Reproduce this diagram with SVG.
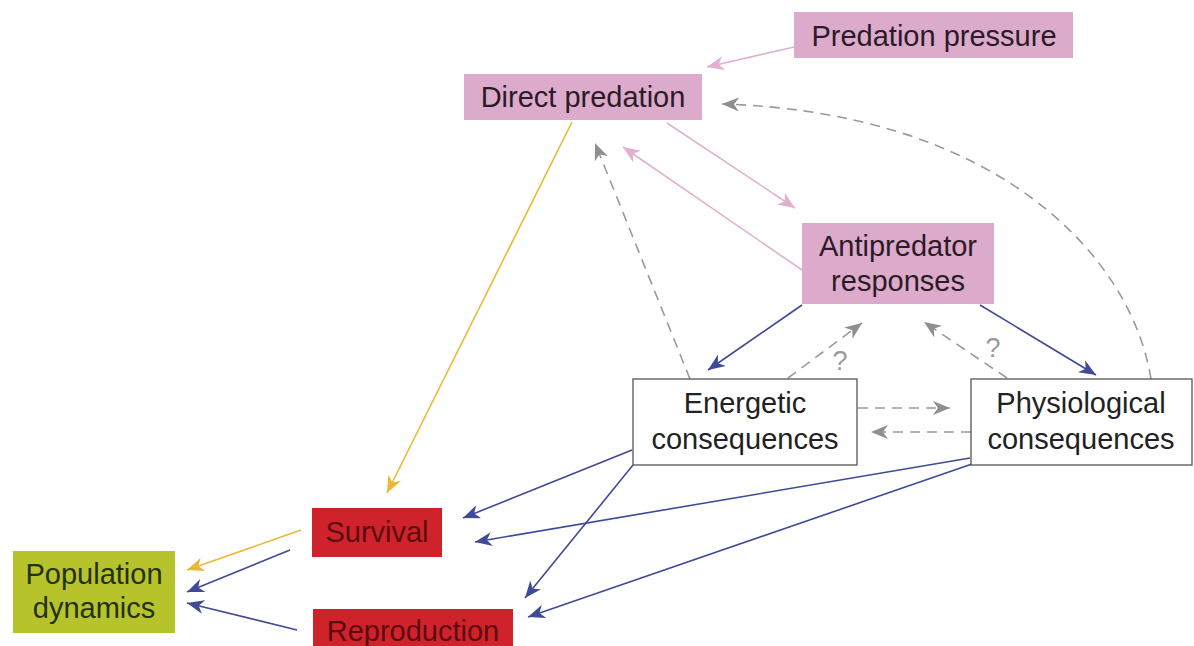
<svg xmlns="http://www.w3.org/2000/svg" width="1194" height="646" viewBox="0 0 1194 646">
<style>
.t{font-family:"Liberation Sans",Arial,sans-serif;font-size:29px;text-anchor:middle}
.pink{fill:#dcaacb}
.red{fill:#d0222a}
.green{fill:#b6c32b}
.white{fill:#fff;stroke:#555;stroke-width:1.3}
.tp{fill:#2b1b26}
.tr{fill:#5c0c10}
.tg{fill:#25300c}
.tw{fill:#222}
.c{fill:none;stroke-width:1.6}
.cp{stroke:#e2b0cf;marker-end:url(#ap)}
.cb{stroke:#3f4a98;marker-end:url(#ab)}
.cy{stroke:#e9b935;marker-end:url(#ay)}
.cg{stroke:#9a9a9a;stroke-dasharray:10 7;marker-end:url(#ag)}
.q{font-family:"Liberation Sans",Arial,sans-serif;font-size:27px;fill:#9a9a9a;text-anchor:middle}
</style>
<defs>
<marker id="ap" markerUnits="userSpaceOnUse" markerWidth="18" markerHeight="14" refX="17" refY="7" orient="auto"><path d="M0,0 L17,7 L0,14 L5,7 z" fill="#e2b0cf"/></marker>
<marker id="ab" markerUnits="userSpaceOnUse" markerWidth="18" markerHeight="14" refX="17" refY="7" orient="auto"><path d="M0,0 L17,7 L0,14 L5,7 z" fill="#3f4a98"/></marker>
<marker id="ay" markerUnits="userSpaceOnUse" markerWidth="18" markerHeight="14" refX="17" refY="7" orient="auto"><path d="M0,0 L17,7 L0,14 L5,7 z" fill="#e9b935"/></marker>
<marker id="ag" markerUnits="userSpaceOnUse" markerWidth="18" markerHeight="14" refX="17" refY="7" orient="auto"><path d="M0,0 L17,7 L0,14 L5,7 z" fill="#8f8f8f"/></marker>
</defs>
<rect width="1194" height="646" fill="#fff"/>
<g id="connectors">
<line class="c cp" x1="794" y1="47" x2="707" y2="67"/>
<line class="c cp" x1="667" y1="123" x2="795" y2="208"/>
<line class="c cp" x1="802" y1="270" x2="623" y2="147"/>
<line class="c cy" x1="572" y1="122" x2="387" y2="493"/>
<line class="c cy" x1="301" y1="530" x2="187" y2="570"/>
<line class="c cb" x1="802" y1="305" x2="708" y2="370"/>
<line class="c cb" x1="980" y1="305" x2="1096" y2="375"/>
<line class="c cb" x1="632" y1="450" x2="463" y2="518"/>
<line class="c cb" x1="633" y1="465" x2="525" y2="598"/>
<line class="c cb" x1="970" y1="458" x2="475" y2="542"/>
<line class="c cb" x1="972" y1="464" x2="528" y2="617"/>
<line class="c cb" x1="290" y1="550" x2="187" y2="592"/>
<line class="c cb" x1="297" y1="630" x2="187" y2="603"/>
<line class="c cg" x1="690" y1="379" x2="595" y2="143"/>
<line class="c cg" x1="788" y1="378" x2="862" y2="323"/>
<line class="c cg" x1="1007" y1="378" x2="924" y2="322"/>
<line class="c cg" x1="858" y1="408" x2="950" y2="408"/>
<line class="c cg" x1="971" y1="432" x2="871" y2="432"/>
<path class="c cg" d="M1151,379 C1130,250 990,112 722,104"/>
<text class="q" x="840" y="370">?</text>
<text class="q" x="993" y="357">?</text>
</g>
<g id="predation-pressure"><rect class="pink" x="794" y="12" width="279" height="46"/><text class="t tp" x="934" y="46">Predation pressure</text></g>
<g id="direct-predation"><rect class="pink" x="464" y="74" width="238" height="46"/><text class="t tp" x="583" y="107">Direct predation</text></g>
<g id="antipredator-responses"><rect class="pink" x="802" y="223" width="192" height="81"/><text class="t tp" x="898" y="256">Antipredator</text><text class="t tp" x="898" y="291">responses</text></g>
<g id="energetic-consequences"><rect class="white" x="633" y="379" width="224" height="86"/><text class="t tw" x="745" y="413">Energetic</text><text class="t tw" x="745" y="449">consequences</text></g>
<g id="physiological-consequences"><rect class="white" x="971" y="379" width="221" height="86"/><text class="t tw" x="1081" y="413">Physiological</text><text class="t tw" x="1081" y="449">consequences</text></g>
<g id="survival"><rect class="red" x="312" y="508" width="130" height="49"/><text class="t tr" x="377" y="542">Survival</text></g>
<g id="reproduction"><rect class="red" x="313" y="609" width="200" height="40"/><text class="t tr" x="413" y="641">Reproduction</text></g>
<g id="population-dynamics"><rect class="green" x="13" y="551" width="162" height="82"/><text class="t tg" x="94" y="584">Population</text><text class="t tg" x="94" y="618">dynamics</text></g>
</svg>
